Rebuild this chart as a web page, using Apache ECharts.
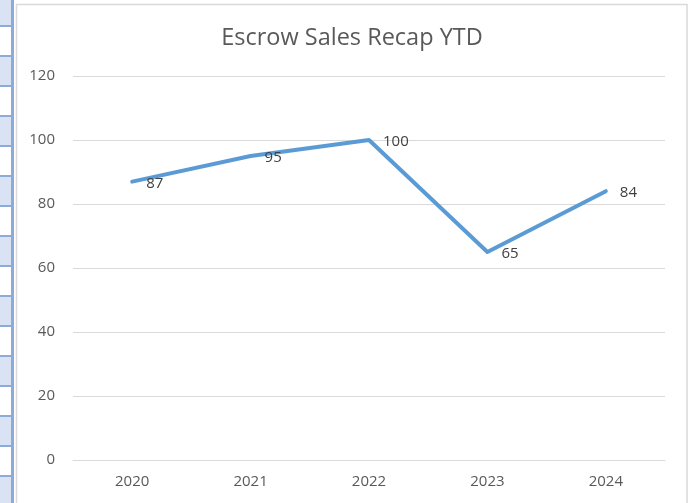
<!DOCTYPE html>
<html>
<head>
<meta charset="utf-8">
<script src="https://cdn.jsdelivr.net/npm/echarts@6/dist/echarts.min.js"></script>
<style>
  html, body { margin: 0; padding: 0; background: #fff; }
  #chart { width: 694px; height: 503px; }
</style>
</head>
<body>
<div id="chart"></div>
<script>
// chart data
const years = ['2020', '2021', '2022', '2023', '2024'];
const sales = [87, 95, 100, 65, 84];
const yTicks = [0, 20, 40, 60, 80, 100, 120];

// spreadsheet row-header strip on the left edge (decoration only)
const strip = [];
for (let i = 0; i < 17; i++) {
  const y0 = i === 0 ? 0 : 25 + (i - 1) * 30 + 2;
  const y1 = 25 + i * 30;
  strip.push({
    type: 'rect',
    shape: { x: 0, y: y0, width: 11, height: y1 - y0 },
    style: { fill: i % 2 === 0 ? '#dae3f3' : '#ffffff' },
    silent: true,
  });
  strip.push({
    type: 'rect',
    shape: { x: 0, y: y1, width: 12, height: 2 },
    style: { fill: '#8eaadb' },
    silent: true,
  });
}
strip.push({
  type: 'rect',
  shape: { x: 11, y: 0, width: 3, height: 503 },
  style: { fill: '#8eaadb' },
  silent: true,
});
// chart area border
strip.push({
  type: 'rect',
  shape: { x: 16.5, y: 4.5, width: 670.5, height: 510 },
  style: { fill: 'none', stroke: '#d9d9d9', lineWidth: 1.5 },
  silent: true,
});

const chart = echarts.init(document.getElementById('chart'));
chart.setOption({
  animation: false,
  textStyle: { fontFamily: 'Open Sans' },
  graphic: strip,
  title: {
    text: 'Escrow Sales Recap YTD',
    left: 347,
    textAlign: 'center',
    top: 21,
    textStyle: { fontFamily: 'Open Sans', fontSize: 23.5, fontWeight: 'normal', color: '#595959' },
  },
  grid: { left: 73, right: 29, top: 76, bottom: 43 },
  xAxis: {
    type: 'category',
    data: years,
    boundaryGap: true,
    axisLine: { lineStyle: { color: '#d9d9d9', width: 1 } },
    axisTick: { show: false },
    axisLabel: { color: '#595959', fontSize: 15, margin: 14 },
  },
  yAxis: {
    type: 'value',
    min: yTicks[0],
    max: yTicks[yTicks.length - 1],
    interval: 20,
    axisLine: { show: false },
    axisTick: { show: false },
    axisLabel: { color: '#595959', fontSize: 15, margin: 18 },
    splitLine: { lineStyle: { color: '#d9d9d9', width: 1 } },
  },
  series: [
    {
      type: 'line',
      data: sales,
      symbol: 'circle',
      symbolSize: 2,
      showSymbol: true,
      itemStyle: { color: '#5b9bd5' },
      lineStyle: { color: '#5b9bd5', width: 4, cap: 'round', join: 'round' },
      label: {
        show: true,
        position: 'right',
        distance: 13,
        offset: [0, 2],
        color: '#404040',
        fontSize: 15,
      },
    },
  ],
});
</script>
</body>
</html>
